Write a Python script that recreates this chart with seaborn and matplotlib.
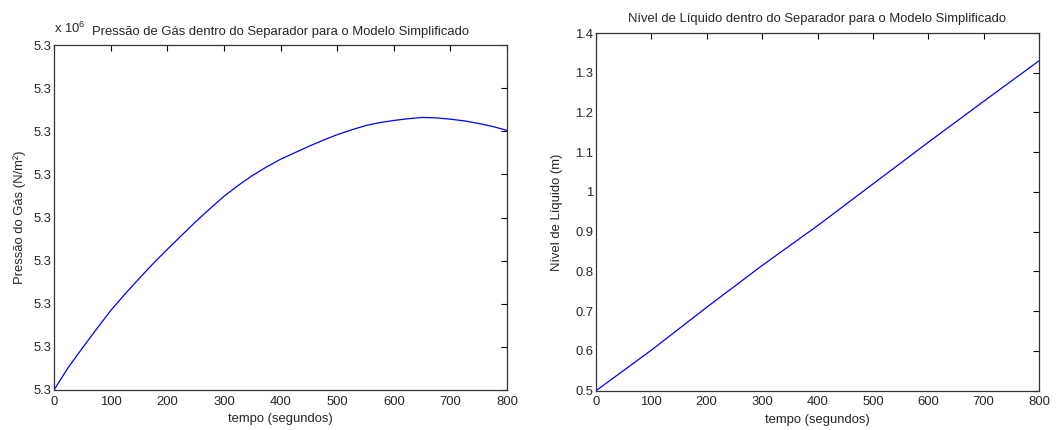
import numpy as np
import pandas as pd
import matplotlib
matplotlib.use("Agg")
import matplotlib.pyplot as plt
import seaborn as sns
from matplotlib.ticker import FuncFormatter

# ---- data ----
tempo_p = [0, 25, 50, 75, 100, 125, 150, 175, 200, 225, 250, 275, 300, 325, 350, 375, 400,
           425, 450, 475, 500, 525, 550, 575, 600, 625, 650, 675, 700, 725, 750, 775, 800]
pressao = [5300000.0, 5300005.2, 5300009.7, 5300014.1, 5300018.4, 5300022.2, 5300025.8,
           5300029.3, 5300032.6, 5300035.8, 5300039.0, 5300042.0, 5300044.9, 5300047.4,
           5300049.7, 5300051.7, 5300053.5, 5300055.0, 5300056.5, 5300057.9, 5300059.2,
           5300060.3, 5300061.3, 5300062.0, 5300062.5, 5300062.9, 5300063.2, 5300063.1,
           5300062.8, 5300062.4, 5300061.8, 5300061.1, 5300060.2]

tempo_n = [0, 100, 200, 300, 400, 500, 600, 700, 800]
nivel = [0.50, 0.602, 0.710, 0.815, 0.915, 1.020, 1.125, 1.228, 1.330]

p_ticks = [5300000 + 10 * k for k in range(9)]
x_ticks = [0, 100, 200, 300, 400, 500, 600, 700, 800]
n_ticks = [0.5, 0.6, 0.7, 0.8, 0.9, 1.0, 1.1, 1.2, 1.3, 1.4]

df_p = pd.DataFrame({"tempo": tempo_p, "pressao": pressao})
df_n = pd.DataFrame({"tempo": tempo_n, "nivel": nivel})

sns.set_style("white")
plt.rcParams["font.family"] = ["Liberation Sans", "DejaVu Sans"]
plt.rcParams["font.size"] = 9.4
plt.rcParams["mathtext.fontset"] = "custom"
plt.rcParams["mathtext.rm"] = "Liberation Sans"

FS = 9.4
W, H = 1063, 430
fig = plt.figure(figsize=(W / 100, H / 100), dpi=100)
ax1 = fig.add_axes([54 / W, (H - 390) / H, 453 / W, 345 / H])
ax2 = fig.add_axes([596 / W, (H - 390.7) / H, 443 / W, 357.7 / H])

sns.lineplot(data=df_p, x="tempo", y="pressao", ax=ax1, color="#0000ff", linewidth=0.9)
sns.lineplot(data=df_n, x="tempo", y="nivel", ax=ax2, color="#0000ff", linewidth=0.9)

txtc = "#262626"
for ax in (ax1, ax2):
    ax.set_xlim(0, 800)
    ax.set_xticks(x_ticks)
    ax.tick_params(direction="in", top=True, right=True, length=4, width=0.8,
                   labelsize=FS, colors="black", labelcolor=txtc, pad=2)
    ax.tick_params(axis="x", pad=4)
    for s in ax.spines.values():
        s.set_color("#333333")
        s.set_linewidth(0.9)
    ax.set_xlabel("tempo (segundos)", fontsize=FS, color=txtc, labelpad=4)

ax1.set_ylim(p_ticks[0], p_ticks[-1])
ax1.set_yticks(p_ticks)
ax1.yaxis.set_major_formatter(FuncFormatter(lambda v, pos: f"{v / 1e6:.1f}"))
ax1.set_ylabel("Pressão do Gás (N/m²)", fontsize=FS, color=txtc, labelpad=5)
ax1.set_title("Pressão de Gás dentro do Separador para o Modelo Simplificado",
              fontsize=FS, color=txtc, pad=7)
ax1.text(0.0, 1.025, r"x 10$^{6}$", transform=ax1.transAxes, fontsize=FS,
         color=txtc, ha="left", va="bottom")

ax2.set_ylim(0.5, 1.4)
ax2.set_yticks(n_ticks)
ax2.yaxis.set_major_formatter(FuncFormatter(lambda v, pos: f"{v:g}"))
ax2.set_ylabel("Nível de Líquido (m)", fontsize=FS, color=txtc, labelpad=9)
ax2.set_title("Nível de Líquido dentro do Separador para o Modelo Simplificado",
              fontsize=FS, color=txtc, pad=8)

fig.savefig("out.png", dpi=100, facecolor="white")
